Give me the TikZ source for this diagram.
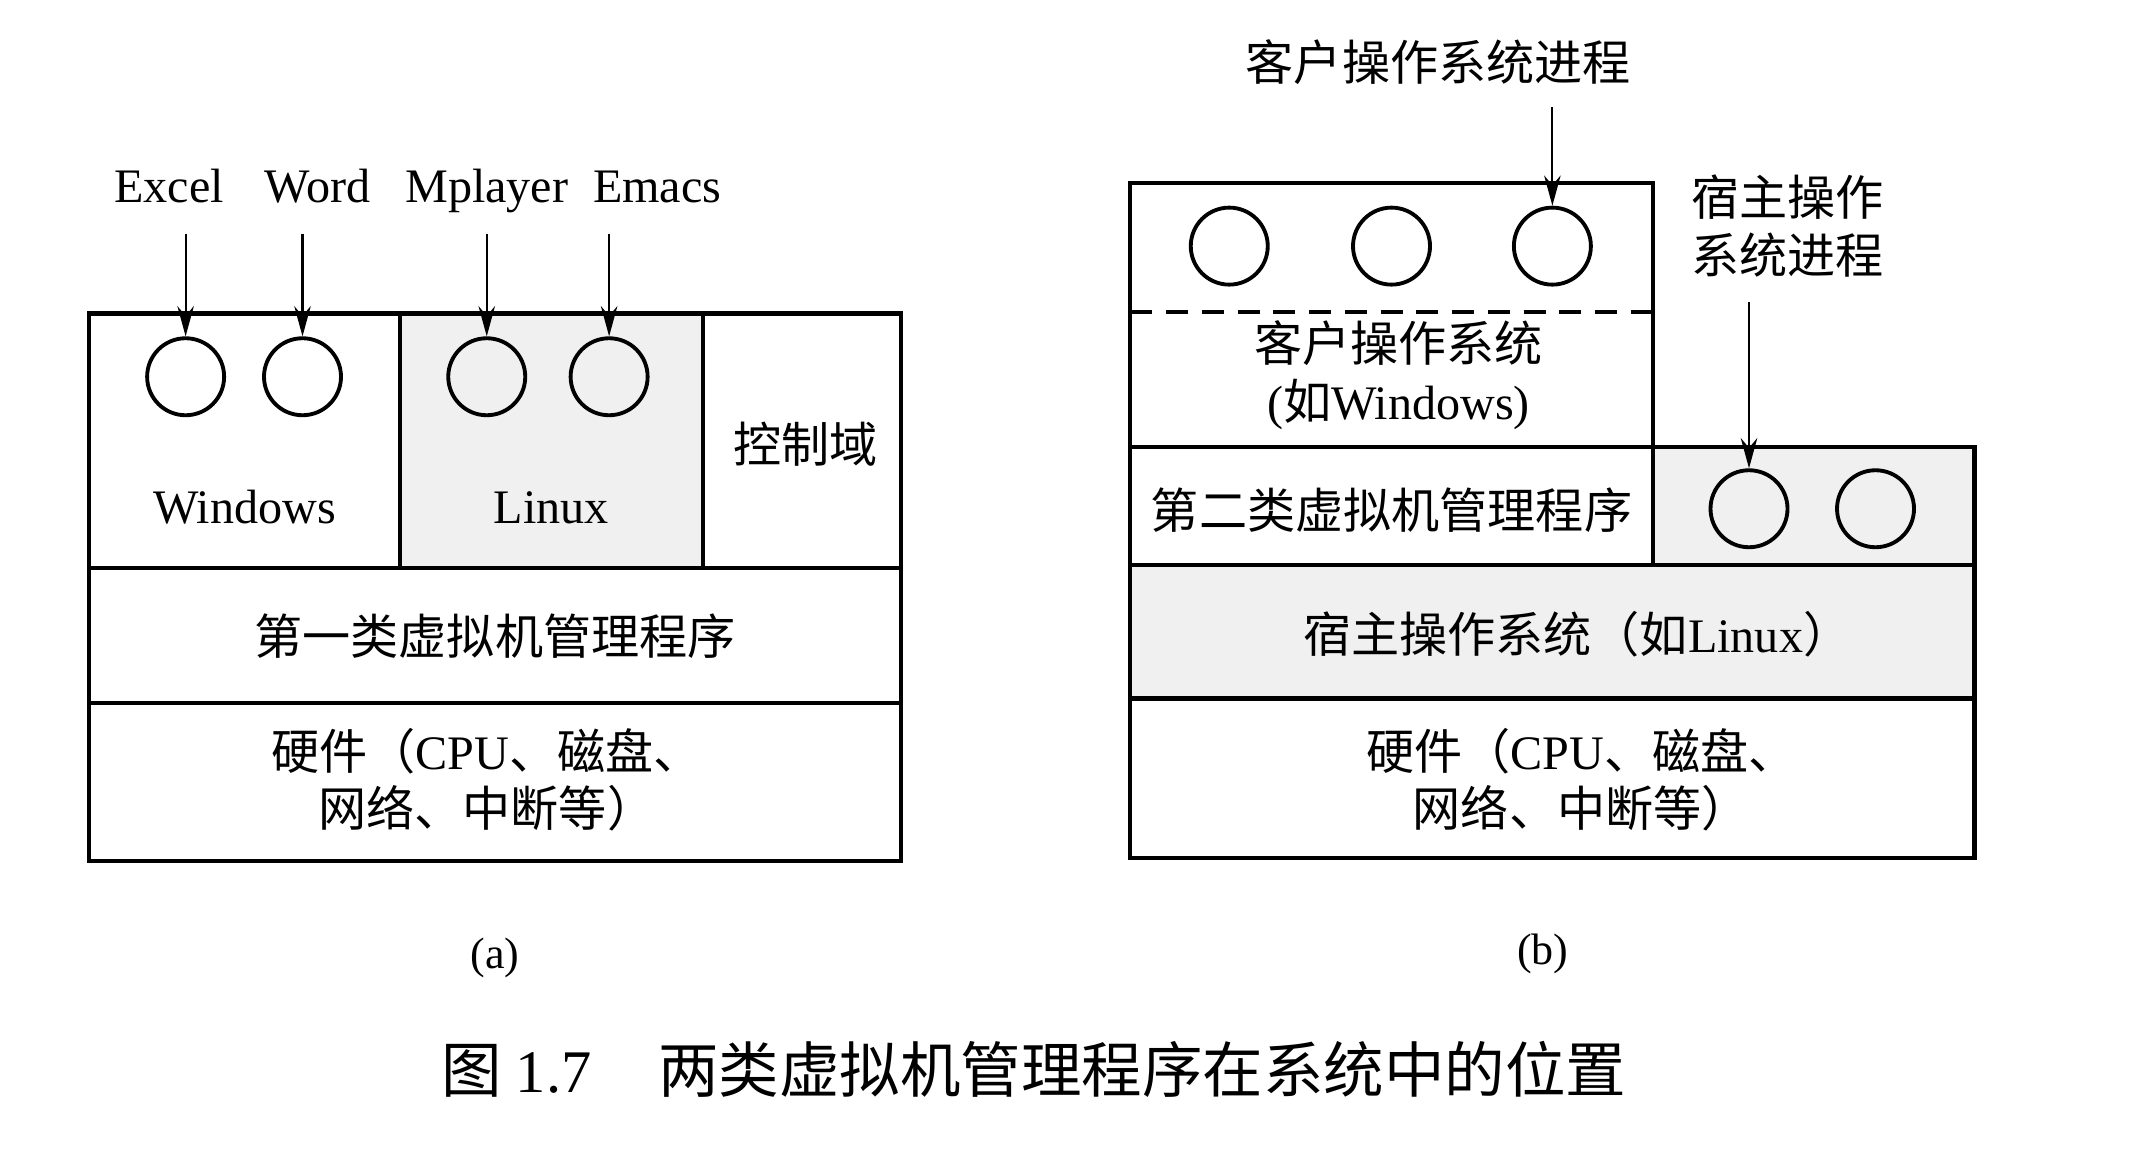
\documentclass[tikz,border=0pt]{standalone}
\usepackage{fontspec}
\setmainfont{Liberation Serif}
\newfontfamily\cjk{Noto Sans CJK SC}
\usetikzlibrary{arrows.meta}
\begin{document}
\begin{tikzpicture}[x=0.5pt,y=-0.5pt,
  frame/.style={line width=1.5pt},
  shadebox/.style={fill=black!6},
  proc/.style={circle,draw,line width=1.4pt,minimum size=28pt,inner sep=0pt},
  lbl/.style={font=\fontsize{17.5}{21}\selectfont, inner sep=0pt, align=center},
  zh/.style={font=\cjk\fontsize{17.5}{21}\selectfont, inner sep=0pt, align=center},
  arr/.style={-{Stealth[length=11pt,width=6pt]}, line width=0.8pt},
]
\useasboundingbox (0,0) rectangle (1568,844);
\fill[white] (0,0) rectangle (1568,844);

% ---------- (a) ----------
\fill[shadebox] (291,228) rectangle (511,413);
\draw[frame] (65,228) rectangle (291,413);
\draw[frame] (291,228) rectangle (511,413);
\draw[frame] (511,228) rectangle (655,413);
\draw[frame] (65,413) rectangle (655,511);
\draw[frame] (65,511) rectangle (655,626);

\node[lbl, anchor=base] (excel) at (123,147) {Excel};
\node[lbl, anchor=base] (word) at (231,147) {Word};
\node[lbl, anchor=base] (mplayer) at (354,147) {Mplayer};
\node[lbl, anchor=base] (emacs) at (478,147) {Emacs};

\node[proc] (c1) at (135,274) {};
\node[proc] (c2) at (220,274) {};
\node[proc] (c3) at (354,274) {};
\node[proc] (c4) at (443,274) {};

\coordinate (s1) at (135,170);
\coordinate (s2) at (220,170);
\coordinate (s3) at (354,170);
\coordinate (s4) at (443,170);
\draw[arr] (s1) -- (c1.north);
\draw[arr] (s2) -- (c2.north);
\draw[arr] (s3) -- (c3.north);
\draw[arr] (s4) -- (c4.north);

\node[lbl, anchor=base] (win) at (178,381) {Windows};
\node[lbl, anchor=base] (lin) at (401,381) {Linux};
\node[zh] (ctrl) at (586,323) {控制域};
\node[zh] (hyp1) at (360,463) {第一类虚拟机管理程序};
\node[zh] (hw1) at (354,567) {硬件（{\rmfamily CPU}、磁盘、\\网络、中断等）};
\node[lbl, font=\fontsize{16}{19}\selectfont] (la) at (360,697) {(a)};

% ---------- (b) ----------
\fill[shadebox] (1202,325) rectangle (1436,411);
\fill[shadebox] (822,411) rectangle (1436,508);
\draw[frame] (822,133) rectangle (1202,325);
\draw[line width=1.5pt, dash pattern=on 8pt off 5pt] (822,227) -- (1202,227);
\draw[frame] (822,325) rectangle (1202,411);
\draw[frame] (1202,325) rectangle (1436,411);
\draw[frame] (822,411) rectangle (1436,508);
\draw[frame] (822,508) rectangle (1436,624);

\node[zh] (gproc) at (1046,45) {客户操作系统进程};
\node[zh] (hproc) at (1300,164.5) {宿主操作\\系统进程};

\node[proc] (g1) at (894,179) {};
\node[proc] (g2) at (1012,179) {};
\node[proc] (g3) at (1129,179) {};
\node[proc] (h1) at (1272,370) {};
\node[proc] (h2) at (1364,370) {};

\coordinate (gs) at (1129,78);
\coordinate (hs) at (1272,220);
\draw[arr] (gs) -- (g3.north);
\draw[arr] (hs) -- (h1.north);

\node[zh] (gos) at (1017,273) {客户操作系统\\{\rmfamily (}如{\rmfamily Windows)}};
\node[zh] (hyp2) at (1012,371) {第二类虚拟机管理程序};
\node[zh] (hos) at (1147,461) {宿主操作系统（如{\rmfamily Linux}）};
\node[zh] (hw2) at (1150,567) {硬件（{\rmfamily CPU}、磁盘、\\网络、中断等）};
\node[lbl, font=\fontsize{16}{19}\selectfont] (lb) at (1122,694) {(b)};

% ---------- caption ----------
\node[zh, font=\cjk\fontsize{22}{26}\selectfont] (cap) at (752,778)
  {图 {\rmfamily 1.7}\hspace{1.1em}两类虚拟机管理程序在系统中的位置};
\end{tikzpicture}
\end{document}
